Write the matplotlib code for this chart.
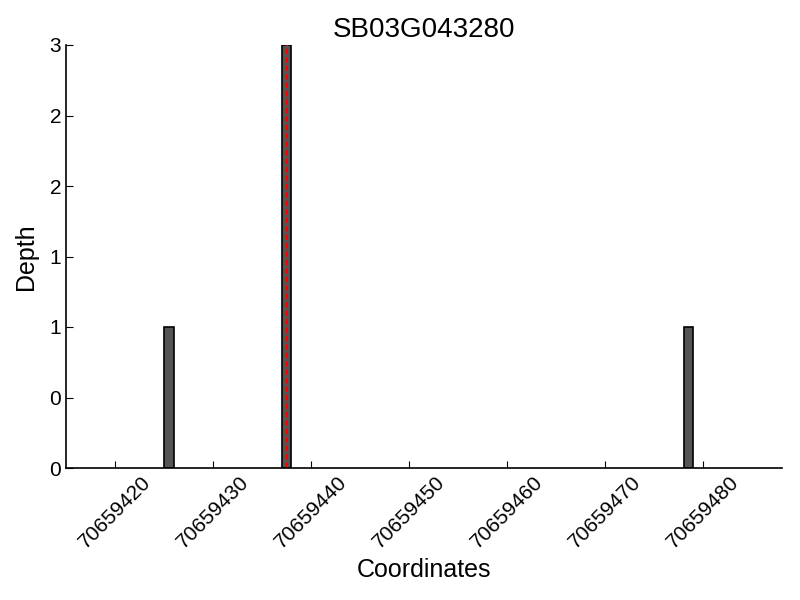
import matplotlib
matplotlib.use('Agg')
import matplotlib.pyplot as plt
from matplotlib.ticker import FormatStrFormatter

plt.rcParams['font.family'] = ['Liberation Sans', 'DejaVu Sans']

# Data
gene_name = 'SB03G043280'
coordinates = [70659425, 70659437, 70659478]
depths = [1, 3, 1]
marker_position = 70659437.5
x_limits = (70659415, 70659488)
x_ticks = [70659420, 70659430, 70659440, 70659450, 70659460, 70659470, 70659480]
y_ticks = [0, 0.5, 1, 1.5, 2, 2.5, 3]

fig, ax = plt.subplots(figsize=(8, 6), dpi=100)

# Depth bars
ax.bar(coordinates, depths, width=1, align='edge', color='#555555',
       edgecolor='black', linewidth=1.2)

# Marker line
ax.axvline(marker_position, color='red', linestyle=(0, (2.5, 1.3)), linewidth=1.6)

ax.set_xlim(*x_limits)
ax.set_ylim(0, 3)
ax.set_xticks(x_ticks)
ax.set_xticklabels([str(t) for t in x_ticks], rotation=45, fontsize=15)
ax.set_yticks(y_ticks)
ax.yaxis.set_major_formatter(FormatStrFormatter('%d'))
ax.tick_params(axis='both', direction='in', labelsize=15, length=5)

ax.spines['top'].set_visible(False)
ax.spines['right'].set_visible(False)
ax.spines['left'].set_linewidth(1.2)
ax.spines['bottom'].set_linewidth(1.2)

ax.set_title(gene_name, fontsize=20)
ax.set_xlabel('Coordinates', fontsize=18)
ax.set_ylabel('Depth', fontsize=18, labelpad=8)

fig.subplots_adjust(left=0.0825, right=0.977, top=0.925, bottom=0.22)
fig.savefig('out.png', dpi=100)
